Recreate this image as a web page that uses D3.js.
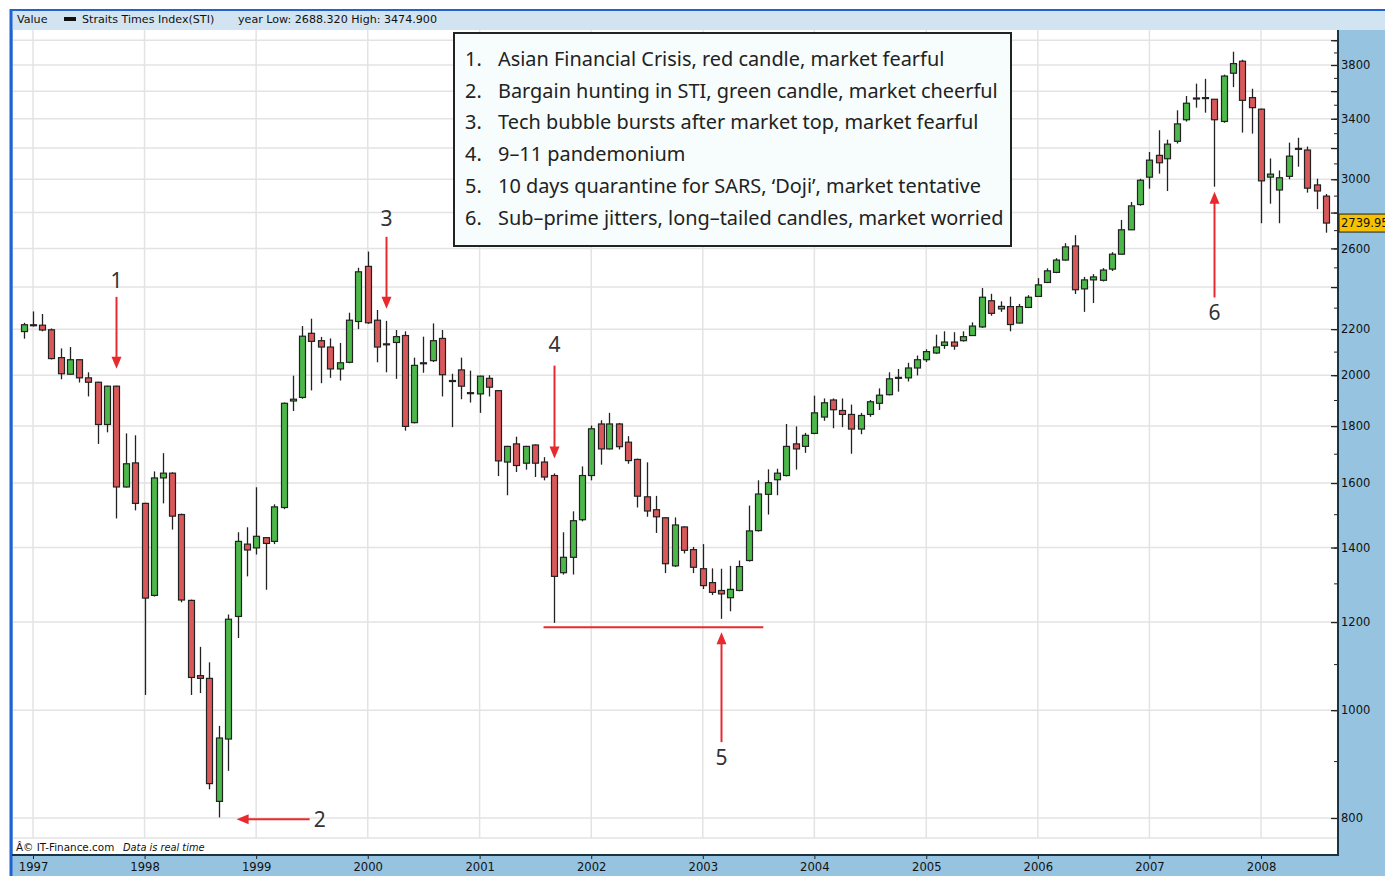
<!DOCTYPE html>
<html lang="en">
<head>
<meta charset="utf-8">
<title>STI monthly candles</title>
<script src="https://cdn.jsdelivr.net/npm/d3@7"></script>
<style>
body { margin: 0; background: #fff; }
svg { display: block; }
</style>
</head>
<body>
<script>
// monthly candles, Dec 1996 .. Aug 2008
var firstMonth = new Date(1996, 11, 1);

var opens = [2189,2220,2218,2197,2074,2004,2065,1989,1971,1806,1955,1587,1668,1534,1268,1617,1633,1499,1255,1074,
  1068,828,942,1214,1410,1399,1429,1418,1521,1896,1910,2181,2148,2120,2026,2054,2235,2505,2241,2134,
  2140,2171,1813,2050,2061,2158,1978,2022,1929,1924,1987,1937,1671,1735,1667,1731,1671,1625,1329,1372,
  1483,1625,1808,1717,1808,1741,1680,1555,1514,1489,1348,1461,1394,1340,1302,1281,1262,1281,1363,1450,
  1563,1611,1625,1735,1726,1773,1834,1900,1859,1844,1789,1844,1887,1921,1989,1989,2030,2065,2094,2127,
  2142,2148,2171,2210,2333,2294,2305,2228,2301,2354,2423,2474,2538,2613,2391,2436,2434,2491,2569,2702,
  2847,3013,3152,3130,3245,3393,3547,3550,3540,3381,3736,3830,3552,3468,3013,2934,3018,3198,3187,2965,2897];
var highs = [2229,2282,2270,2203,2114,2120,2067,2012,1973,1957,1957,1773,1766,1536,1639,1702,1636,1502,1257,1140,
  1104,968,1219,1445,1460,1586,1431,1531,1890,1998,2214,2248,2165,2158,2138,2276,2498,2583,2289,2238,
  2196,2190,2074,2166,2226,2196,2006,2074,2019,1998,2000,1939,1728,1761,1728,1733,1688,1632,1445,1509,
  1656,1802,1822,1850,1812,1763,1683,1670,1558,1491,1490,1463,1402,1410,1341,1340,1348,1363,1527,1609,
  1646,1648,1808,1799,1775,1917,1906,1906,1906,1882,1850,1900,1946,2012,2026,2052,2083,2110,2175,2190,
  2186,2190,2231,2395,2367,2330,2353,2318,2360,2445,2495,2548,2628,2672,2451,2465,2496,2580,2758,2862,
  3003,3174,3320,3256,3460,3564,3656,3693,3542,3725,3906,3842,3618,3472,3132,3055,3236,3269,3210,3003,2910];
var lows = [2157,2212,2190,2066,1983,2002,1970,1914,1735,1777,1487,1585,1512,1032,1265,1534,1453,1250,1032,1036,
  849,801,882,1161,1319,1380,1283,1410,1516,1857,1905,1938,1967,1989,1978,2050,2200,2224,2054,2012,
  1985,1783,1810,2010,2055,1914,1796,1903,1890,1850,1914,1623,1560,1637,1645,1620,1609,1198,1324,1324,
  1478,1609,1662,1715,1715,1665,1521,1492,1443,1328,1345,1383,1328,1285,1269,1208,1227,1279,1360,1447,
  1499,1560,1622,1645,1703,1770,1820,1792,1796,1700,1770,1835,1861,1918,1933,1974,1999,2055,2090,2112,
  2108,2144,2169,2205,2262,2280,2190,2226,2298,2352,2420,2470,2535,2366,2280,2322,2428,2481,2567,2700,
  2840,2942,3035,2928,3230,3380,3479,3443,2954,3372,3630,3304,3297,2739,2852,2739,3000,3079,2918,2820,2686];
var closes = [2220,2216,2196,2070,2006,2065,1989,1971,1806,1955,1587,1665,1534,1261,1617,1633,1494,1256,1070,1068,
  859,944,1207,1418,1393,1433,1412,1523,1887,1903,2168,2145,2120,2026,2052,2241,2477,2229,2120,2130,
  2166,1799,2041,2052,2148,2002,1976,1955,1927,1996,1951,1675,1726,1659,1726,1667,1620,1319,1372,1480,
  1625,1790,1717,1808,1725,1676,1557,1510,1492,1354,1467,1392,1344,1294,1276,1272,1284,1346,1449,1564,
  1601,1633,1726,1717,1766,1850,1889,1862,1844,1789,1840,1893,1919,1985,1991,2030,2065,2100,2120,2142,
  2124,2166,2214,2350,2273,2306,2221,2305,2350,2411,2482,2538,2608,2387,2436,2451,2486,2569,2702,2839,
  2994,3121,3104,3226,3364,3511,3549,3552,3393,3714,3811,3532,3479,2990,3032,3009,3147,3196,2945,2928,2739.95];

var yearTicks = [1997,1998,1999,2000,2001,2002,2003,2004,2005,2006,2007,2008];
var priceLabels = [800,1000,1200,1400,1600,1800,2000,2200,2600,3000,3400,3800];
var legendLines = [
  "Asian Financial Crisis, red candle, market fearful",
  "Bargain hunting in STI, green candle, market cheerful",
  "Tech bubble bursts after market top, market fearful",
  "9\u201311 pandemonium",
  "10 days quarantine for SARS, \u2018Doji\u2019, market tentative",
  "Sub\u2013prime jitters, long\u2013tailed candles, market worried"
];
// arrows: label, date, tail value, tip value (vertical ones)
var arrowNotes = [
  {label: "1", date: new Date(1997, 9, 1), tail: 2352, tip: 2027, text: 2435},
  {label: "3", date: new Date(2000, 2, 1), tail: 2663, tip: 2295, text: 2769},
  {label: "4", date: new Date(2001, 8, 1), tail: 2040, tip: 1683, text: 2130},
  {label: "5", date: new Date(2003, 2, 1), tail: 936, tip: 1175, text: 906},
  {label: "6", date: new Date(2007, 7, 1), tail: 2349, tip: 2923, text: 2276}
];

var W = 1385, H = 876;
var plotL = 12, plotR = 1338, plotT = 30, plotB = 855;
var axisFont = "DejaVu Sans, Verdana, sans-serif";

var svg = d3.select("body").append("svg")
  .attr("width", W)
  .attr("height", H);

var data = opens.map(function(o, i) {
  return {date: d3.timeMonth.offset(firstMonth, i), o: o, h: highs[i], l: lows[i], c: closes[i]};
});

var x = d3.scaleTime()
  .domain([new Date(1997, 0, 1), new Date(2008, 0, 1)])
  .range([33, 1261]);
var y = d3.scaleLog()
  .domain([800, 3800])
  .range([818, 65]);

// frame + panels
svg.append("rect").attr("x", 10).attr("y", 9).attr("width", W - 10).attr("height", H - 9)
  .attr("fill", "#95c3e0");
svg.append("rect").attr("x", 12).attr("y", 11).attr("width", W - 12).attr("height", 19)
  .attr("fill", "#d2e4f1");
svg.append("line").attr("x1", 10).attr("x2", W).attr("y1", 10).attr("y2", 10)
  .attr("stroke", "#1f63d3").attr("stroke-width", 2);
svg.append("line").attr("x1", 11).attr("x2", 11).attr("y1", 9).attr("y2", H)
  .attr("stroke", "#1f63d3").attr("stroke-width", 3);
svg.append("rect").attr("x", plotL + 1).attr("y", plotT).attr("width", plotR - plotL - 1).attr("height", plotB - plotT)
  .attr("fill", "#fff");

// header text
var head = svg.append("g").attr("font-family", axisFont).attr("font-size", 11.1).attr("fill", "#111");
head.append("text").attr("x", 17).attr("y", 23).text("Value");
head.append("rect").attr("x", 64).attr("y", 17).attr("width", 12).attr("height", 4).attr("fill", "#111");
head.append("text").attr("x", 82).attr("y", 23).text("Straits Times Index(STI)");
head.append("text").attr("x", 238).attr("y", 23).text("year Low: 2688.320 High: 3474.900");

// grid
var gridVals = d3.range(800, 4001, 200);
svg.append("g").selectAll("line").data(gridVals).enter().append("line")
  .attr("x1", plotL + 1).attr("x2", plotR)
  .attr("y1", function(d) { return y(d); })
  .attr("y2", function(d) { return y(d); })
  .attr("stroke", "#e3e3e3").attr("stroke-width", 1.5);
svg.append("g").selectAll("line").data(yearTicks).enter().append("line")
  .attr("x1", function(d) { return x(new Date(d, 0, 1)); })
  .attr("x2", function(d) { return x(new Date(d, 0, 1)); })
  .attr("y1", plotT).attr("y2", 838)
  .attr("stroke", "#e3e3e3").attr("stroke-width", 1.5);
svg.append("line").attr("x1", plotL + 1).attr("x2", plotR).attr("y1", 838).attr("y2", 838)
  .attr("stroke", "#e3e3e3").attr("stroke-width", 1.5);

// footer inside plot
var foot = svg.append("g").attr("font-family", axisFont).attr("font-size", 10.4).attr("fill", "#111");
foot.append("text").attr("x", 16).attr("y", 851).text("\u00c2\u00a9 IT-Finance.com");
foot.append("text").attr("x", 123).attr("y", 851).attr("font-size", 9.8).attr("font-style", "italic").text("Data is real time");

// candles
var bw = 6;
var candles = svg.append("g");
candles.selectAll("line").data(data).enter().append("line")
  .attr("x1", function(d) { return Math.round(x(d.date)) + 0.5; })
  .attr("x2", function(d) { return Math.round(x(d.date)) + 0.5; })
  .attr("y1", function(d) { return y(d.h); })
  .attr("y2", function(d) { return y(d.l); })
  .attr("stroke", "#222").attr("stroke-width", 1.3);
candles.selectAll("rect").data(data).enter().append("rect")
  .attr("x", function(d) { return Math.round(x(d.date)) + 0.5 - bw / 2; })
  .attr("y", function(d) { return y(Math.max(d.o, d.c)); })
  .attr("width", bw)
  .attr("height", function(d) { return Math.max(1, Math.abs(y(d.o) - y(d.c))); })
  .attr("fill", function(d) { return d.c >= d.o ? "#4cb84a" : "#d9585a"; })
  .attr("stroke", "#222").attr("stroke-width", 1.2);

// right axis
var minorAxis = d3.axisRight(y).tickValues(d3.range(800, 4001, 100)).tickSize(-4).tickFormat("");
var majorAxis = d3.axisRight(y).tickValues(gridVals).tickSize(-7).tickPadding(3)
  .tickFormat(function(d) { return priceLabels.indexOf(d) >= 0 ? d : ""; });
svg.append("g").attr("transform", "translate(" + plotR + ",0)").call(minorAxis)
  .call(function(g) { g.select(".domain").remove(); g.selectAll("line").attr("stroke", "#222"); });
svg.append("g").attr("transform", "translate(" + plotR + ",0)").call(majorAxis)
  .call(function(g) {
    g.select(".domain").remove();
    g.selectAll("line").attr("stroke", "#222").attr("stroke-width", 1.3);
    g.selectAll("text").attr("font-family", axisFont).attr("font-size", 11.5).attr("fill", "#111");
  });

// bottom axis
var xAxis = d3.axisBottom(x)
  .tickValues(yearTicks.map(function(d) { return new Date(d, 0, 1); }))
  .tickSize(4).tickPadding(4)
  .tickFormat(d3.timeFormat("%Y"));
svg.append("g").attr("transform", "translate(0," + plotB + ")").call(xAxis)
  .call(function(g) {
    g.select(".domain").remove();
    g.selectAll("line").attr("stroke", "#222");
    g.selectAll("text").attr("font-family", axisFont).attr("font-size", 11.6).attr("fill", "#111");
  });

// plot border lines
svg.append("line").attr("x1", plotR).attr("x2", plotR).attr("y1", plotT).attr("y2", plotB + 1)
  .attr("stroke", "#1b3444").attr("stroke-width", 2);
svg.append("line").attr("x1", plotL).attr("x2", plotR + 1).attr("y1", plotB).attr("y2", plotB)
  .attr("stroke", "#1b3444").attr("stroke-width", 2);

// last price tag
var last = closes[closes.length - 1];
svg.append("rect").attr("x", plotR + 1).attr("y", y(last) - 9).attr("width", 50).attr("height", 18)
  .attr("fill", "#f6c200").attr("stroke", "#222").attr("stroke-width", 1);
svg.append("text").attr("x", plotR + 3).attr("y", y(last) + 4)
  .attr("font-family", axisFont).attr("font-size", 11.5).attr("fill", "#111")
  .text(d3.format(".2f")(last));

// annotations
var red = "#e82a2e";
var numFont = "Noto Sans, Open Sans, sans-serif";
function arrowHead(g, tx, ty, dir) {
  // dir: "down", "up", "left"
  var p;
  if (dir == "down") p = [[tx - 5, ty - 12], [tx + 5, ty - 12], [tx, ty]];
  else if (dir == "up") p = [[tx - 5, ty + 12], [tx + 5, ty + 12], [tx, ty]];
  else p = [[tx + 12, ty - 5], [tx + 12, ty + 5], [tx, ty]];
  g.append("path").attr("d", d3.line()(p) + "Z").attr("fill", red);
}
var ann = svg.append("g");
arrowNotes.forEach(function(a) {
  var ax = Math.round(x(a.date)) + 0.5;
  var y0 = y(a.tail), y1 = y(a.tip);
  var down = y1 > y0;
  ann.append("line").attr("x1", ax).attr("x2", ax).attr("y1", y0).attr("y2", down ? y1 - 10 : y1 + 10)
    .attr("stroke", red).attr("stroke-width", 2);
  arrowHead(ann, ax, y1, down ? "down" : "up");
  ann.append("text").attr("x", ax).attr("y", y(a.text)).attr("dy", "0.36em")
    .attr("text-anchor", "middle").attr("font-family", numFont).attr("font-size", 21).attr("fill", "#333")
    .text(a.label);
});
// 2: horizontal arrow at the 1998 low
var y2 = y(798);
ann.append("line").attr("x1", x(new Date(1999, 5, 25))).attr("x2", x(new Date(1998, 9, 29)) + 10)
  .attr("y1", y2).attr("y2", y2).attr("stroke", red).attr("stroke-width", 2);
arrowHead(ann, x(new Date(1998, 9, 29)), y2, "left");
ann.append("text").attr("x", x(new Date(1999, 6, 28))).attr("y", y2).attr("dy", "0.36em")
  .attr("text-anchor", "middle").attr("font-family", numFont).attr("font-size", 21).attr("fill", "#333").text("2");
// support line under the 2001/2003 lows
ann.append("line").attr("x1", x(new Date(2001, 6, 29))).attr("x2", x(new Date(2003, 6, 18)))
  .attr("y1", y(1187)).attr("y2", y(1187)).attr("stroke", red).attr("stroke-width", 2);

// legend box
var lg = svg.append("g").attr("transform", "translate(454,33)");
lg.append("rect").attr("width", 557).attr("height", 213)
  .attr("fill", "#f7fdfd").attr("stroke", "#222").attr("stroke-width", 2);
lg.selectAll("text.n").data(legendLines).enter().append("text")
  .attr("x", 11).attr("y", function(d, i) { return 33 + i * 31.7; })
  .attr("font-family", numFont).attr("font-size", 19.9).attr("fill", "#222")
  .text(function(d, i) { return (i + 1) + "."; });
lg.selectAll("text.t").data(legendLines).enter().append("text")
  .attr("x", 44).attr("y", function(d, i) { return 33 + i * 31.7; })
  .attr("font-family", numFont).attr("font-size", 19.9).attr("fill", "#222")
  .text(function(d) { return d; });
</script>
</body>
</html>
